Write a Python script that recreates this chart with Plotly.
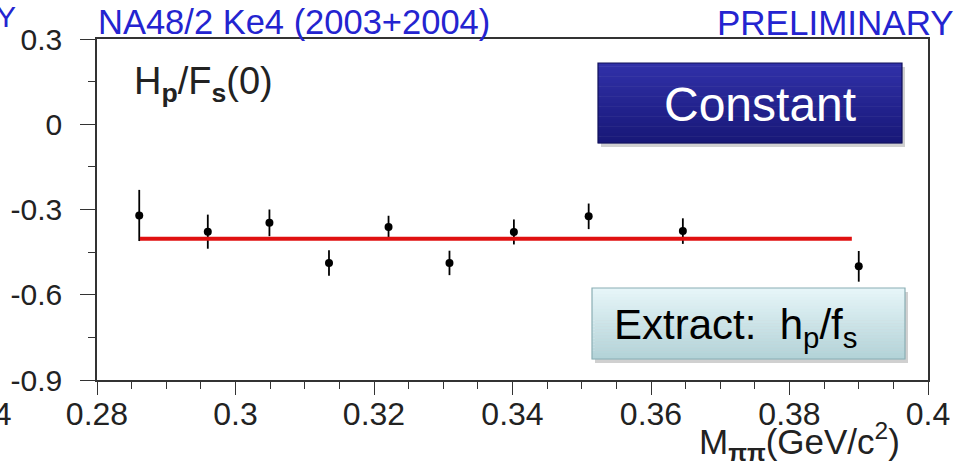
import plotly.graph_objects as go

# ---------------- data ----------------
m_pipi = [0.2861, 0.2960, 0.3049, 0.3135, 0.3221, 0.3309, 0.3402, 0.3510, 0.3646, 0.3900]
hp_fs = [-0.321, -0.378, -0.347, -0.488, -0.362, -0.488, -0.379, -0.324, -0.376, -0.500]
hp_fs_err = [0.090, 0.060, 0.047, 0.045, 0.040, 0.043, 0.044, 0.045, 0.045, 0.054]

fit_x = [0.2862, 0.3890]
fit_value = -0.403

x_tickvals = [0.28, 0.30, 0.32, 0.34, 0.36, 0.38, 0.40]
x_ticktext = ["0.28", "0.3", "0.32", "0.34", "0.36", "0.38", "0.4"]
y_tickvals = [-0.9, -0.6, -0.3, 0.0, 0.3]
y_ticktext = ["-0.9", "-0.6", "-0.3", "0", "0.3"]

# ---------------- layout helpers ----------------
W, H = 972, 467
L, R, T, B = 97, 928, 39, 380


def px(x):
    return (x - L) / (R - L)


def py(y):
    return (B - y) / (B - T)


FONT = "Liberation Sans, Arial, sans-serif"
AX = "#333333"

fig = go.Figure()

fig.add_trace(go.Scatter(
    x=m_pipi, y=hp_fs, mode="markers",
    marker=dict(color="black", size=8, symbol="circle"),
    error_y=dict(type="data", array=hp_fs_err, visible=True,
                 color="black", thickness=1.8, width=0),
    showlegend=False, hoverinfo="x+y",
))

fig.add_trace(go.Scatter(
    x=fit_x, y=[fit_value] * len(fit_x), mode="lines",
    line=dict(color="#e01010", width=4),
    showlegend=False,
))

shapes = []


def gradient_box(x0, y0, x1, y1, top, bottom, border, n=24, shadow=True):
    if shadow:
        shapes.append(dict(type="rect", xref="paper", yref="paper",
                           x0=px(x0 + 3), x1=px(x1 + 3), y0=py(y1 + 4), y1=py(y0 + 4),
                           fillcolor="rgba(120,120,120,0.35)", line=dict(width=0), layer="above"))

    def hx(c):
        return [int(c[i:i + 2], 16) for i in (1, 3, 5)]
    ct, cb = hx(top), hx(bottom)
    h = (y1 - y0) / n
    for i in range(n):
        f = i / (n - 1)
        c = [round(ct[k] + (cb[k] - ct[k]) * f) for k in range(3)]
        shapes.append(dict(type="rect", xref="paper", yref="paper",
                           x0=px(x0), x1=px(x1), y0=py(y0 + (i + 1) * h + 0.3), y1=py(y0 + i * h),
                           fillcolor="rgb(%d,%d,%d)" % tuple(c), line=dict(width=0), layer="above"))
    shapes.append(dict(type="rect", xref="paper", yref="paper",
                       x0=px(x0), x1=px(x1), y0=py(y1), y1=py(y0),
                       fillcolor="rgba(0,0,0,0)", line=dict(color=border, width=1.2), layer="above"))


gradient_box(598, 63, 902, 143, "#3030a8", "#181878", "#10105a")
gradient_box(592, 288, 905, 359, "#e6f5f8", "#b3d3d8", "#8aaeb4")

annotations = [
    dict(x=px(96), y=py(22), xref="paper", yref="paper", xanchor="left", yanchor="middle",
         text="NA48/2 Ke4 (2003+2004)", showarrow=False,
         font=dict(family=FONT, size=34.5, color="#2424d0")),
    dict(x=px(956), y=py(22), xref="paper", yref="paper", xanchor="right", yanchor="middle",
         text="PRELIMINARY", showarrow=False,
         font=dict(family=FONT, size=35, color="#2424d0")),
    dict(x=px(18), y=py(16), xref="paper", yref="paper", xanchor="right", yanchor="middle",
         text="Y", showarrow=False,
         font=dict(family=FONT, size=30, color="#2424d0")),
    dict(x=px(13), y=py(414), xref="paper", yref="paper", xanchor="right", yanchor="middle",
         text="0.4", showarrow=False,
         font=dict(family=FONT, size=32, color="#222222")),
    dict(x=px(132), y=py(84), xref="paper", yref="paper", xanchor="left", yanchor="middle",
         text="H<sub><b>p</b></sub>/F<sub><b>s</b></sub>(0)", showarrow=False,
         font=dict(family=FONT, size=38, color="#222222")),
    dict(x=px(760), y=py(104), xref="paper", yref="paper", xanchor="center", yanchor="middle",
         text="Constant", showarrow=False,
         font=dict(family=FONT, size=48, color="white")),
    dict(x=px(612), y=py(327), xref="paper", yref="paper", xanchor="left", yanchor="middle",
         text="Extract:  h<sub>p</sub>/f<sub>s</sub>", showarrow=False,
         font=dict(family=FONT, size=42, color="black")),
    dict(x=px(902), y=py(441), xref="paper", yref="paper", xanchor="right", yanchor="middle",
         text="M<sub><b>ππ</b></sub>(GeV/c<sup>2</sup>)", showarrow=False,
         font=dict(family=FONT, size=35, color="#222222")),
]

fig.update_layout(
    width=W, height=H, autosize=False,
    margin=dict(l=L, r=W - R, t=T, b=H - B, pad=0),
    paper_bgcolor="white", plot_bgcolor="white",
    shapes=shapes, annotations=annotations,
    showlegend=False,
    xaxis=dict(
        range=[0.28, 0.40], tickmode="array", tickvals=x_tickvals, ticktext=x_ticktext,
        ticks="outside", ticklen=13, tickwidth=1.3, tickcolor=AX,
        showline=True, linecolor=AX, linewidth=1.5, mirror=True,
        showgrid=False, zeroline=False,
        tickfont=dict(family=FONT, size=32, color="#222222"),
        ticklabelstandoff=-8,
        minor=dict(tickmode="linear", tick0=0.28, dtick=0.005, ticks="outside",
                   ticklen=7, tickwidth=1.1, tickcolor=AX, showgrid=False),
    ),
    yaxis=dict(
        range=[-0.9, 0.3], tickmode="array", tickvals=y_tickvals, ticktext=y_ticktext,
        ticks="outside", ticklen=15, tickwidth=1.3, tickcolor=AX,
        showline=True, linecolor=AX, linewidth=1.5, mirror=True,
        showgrid=False, zeroline=False,
        tickfont=dict(family=FONT, size=30, color="#222222"),
        ticklabelstandoff=12,
        minor=dict(tickmode="linear", tick0=-0.9, dtick=0.15, ticks="outside",
                   ticklen=7, tickwidth=1.1, tickcolor=AX, showgrid=False),
    ),
)

fig.write_html(
    "out.html",
    config={"displayModeBar": False},
    post_script="document.body.style.margin='0';document.body.style.overflow='hidden';",
)
